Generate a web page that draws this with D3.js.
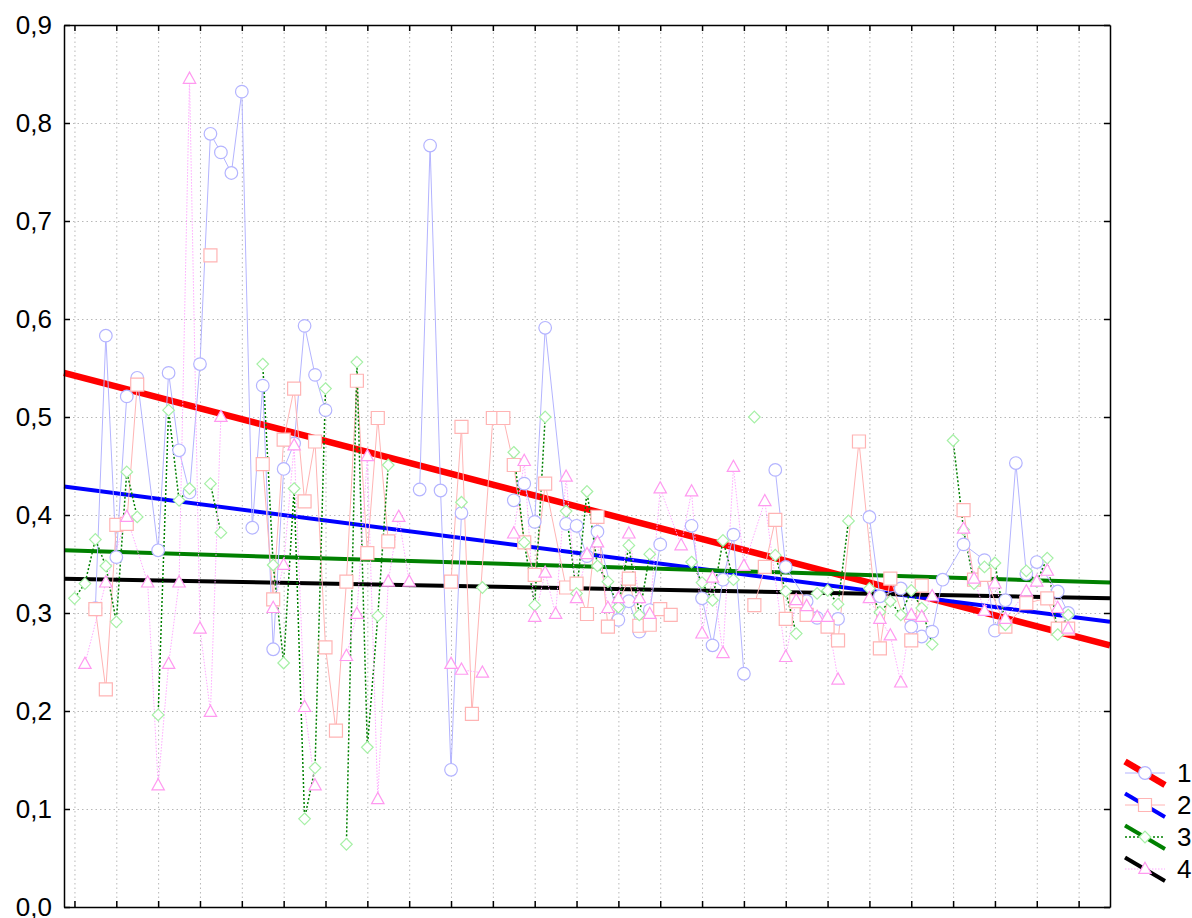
<!DOCTYPE html>
<html lang="en">
<head>
<meta charset="UTF-8" />
<title>Series 1-4 with linear fits</title>
<script src="https://cdnjs.cloudflare.com/ajax/libs/d3/7.8.2/d3.min.js"></script>
<style>
  body { margin: 0; background: #fff; }
  svg { display: block; font-family: "Liberation Sans", Arial, sans-serif; }
  .grid line { stroke: #b8b8b8; stroke-width: 1; stroke-dasharray: 1.5,3; }
  .grid .domain { display: none; }
  .axis .domain, .axis line { stroke: #000; stroke-width: 1.5; }
  .axis text { font-size: 26px; fill: #000; }
</style>
</head>
<body>
<svg id="chart" width="1192" height="918"></svg>
<script>
// ---------- data (case numbers 1..96, null = missing) ----------
const caseNo = d3.range(1, 97);

const series1 = [
  null, null, 0.305, 0.583, 0.357, 0.521, 0.540, null, 0.364, 0.545,
  0.466, 0.423, 0.554, 0.789, 0.770, 0.749, 0.832, 0.387, 0.532, 0.263,
  0.447, 0.473, 0.593, 0.543, 0.507, null, null, null, null, null,
  null, null, null, 0.426, 0.777, 0.425, 0.140, 0.402, null, null,
  null, null, 0.415, 0.432, 0.393, 0.591, null, 0.391, 0.389, 0.358,
  0.383, null, 0.293, 0.312, 0.281, 0.303, 0.370, null, null, 0.389,
  0.315, 0.267, 0.334, 0.380, 0.238, null, null, 0.446, 0.347, null,
  0.312, 0.295, null, 0.294, null, null, 0.398, 0.317, null, 0.325,
  0.286, 0.276, 0.281, 0.334, null, 0.370, null, 0.354, 0.282, 0.313,
  0.453, 0.340, 0.352, null, 0.322, 0.300
];

const series2 = [
  null, null, 0.304, 0.222, 0.390, 0.391, 0.533, null, null, null,
  null, null, null, 0.665, null, null, null, null, 0.452, 0.314,
  0.477, 0.529, 0.414, 0.475, 0.265, 0.180, 0.332, 0.537, 0.361, 0.499,
  0.373, null, null, null, null, null, 0.332, 0.490, 0.197, null,
  0.499, 0.499, 0.451, 0.372, 0.339, 0.432, null, 0.326, 0.330, 0.299,
  0.398, 0.286, null, 0.335, 0.287, 0.288, 0.304, 0.298, null, null,
  null, null, null, null, null, 0.308, 0.347, 0.395, 0.294, 0.312,
  0.298, null, 0.286, 0.272, null, 0.475, null, 0.264, 0.335, null,
  0.272, 0.328, null, null, null, 0.405, 0.334, 0.339, null, 0.286,
  null, 0.310, null, 0.315, 0.284, 0.284
];

const series3 = [
  0.315, 0.330, 0.375, 0.348, 0.291, 0.444, 0.398, null, 0.196, 0.507,
  0.415, 0.427, null, 0.432, 0.382, null, null, null, 0.554, 0.349,
  0.249, 0.427, 0.090, 0.142, 0.529, null, 0.064, 0.556, 0.163, 0.297,
  0.451, null, null, null, null, null, null, 0.413, null, 0.326,
  null, null, 0.464, 0.372, 0.308, 0.500, null, 0.404, 0.320, 0.424,
  0.348, 0.332, 0.306, 0.369, 0.298, 0.360, null, null, null, 0.352,
  0.331, 0.313, 0.374, 0.334, null, 0.500, null, 0.359, 0.322, 0.279,
  null, 0.320, 0.323, 0.309, 0.394, null, 0.325, 0.301, 0.312, 0.298,
  0.323, 0.305, 0.268, null, 0.476, 0.385, 0.330, 0.347, 0.351, 0.288,
  null, 0.343, 0.332, 0.356, 0.278, 0.298
];

const series4 = [
  null, 0.248, null, 0.331, null, 0.398, null, 0.331, 0.124, 0.248,
  0.331, 0.845, 0.284, 0.199, 0.500, null, null, null, null, 0.305,
  0.349, 0.471, 0.204, 0.124, null, null, 0.256, 0.299, 0.460, 0.110,
  0.332, 0.398, 0.332, null, null, null, 0.248, 0.242, null, 0.239,
  null, null, 0.381, 0.455, 0.296, 0.341, 0.299, 0.439, 0.315, 0.360,
  0.372, 0.305, 0.315, 0.381, 0.315, 0.299, 0.427, null, 0.369, 0.424,
  0.279, 0.336, 0.259, 0.449, 0.348, null, 0.414, null, 0.255, 0.313,
  0.307, 0.296, 0.296, 0.232, null, null, 0.315, 0.294, 0.277, 0.229,
  0.298, 0.296, 0.317, null, null, 0.386, 0.335, 0.302, 0.330, 0.294,
  null, 0.322, 0.332, 0.343, 0.305, 0.284
];

// linear fits, value at x = 0 and at x = 100
const fitAt0   = [0.545, 0.429, 0.364, 0.335];
const fitAt100 = [0.267, 0.291, 0.331, 0.315];

const legendLabels = ["1", "2", "3", "4"];
const yTicks = [0, 0.1, 0.2, 0.3, 0.4, 0.5, 0.6, 0.7, 0.8, 0.9];
const xTicks = d3.range(1, 98, 4);

// ---------- setup ----------
const svg = d3.select("#chart");
const mLeft = 64, mRight = 1110, mTop = 25, mBottom = 907;

const x = d3.scaleLinear().domain([0, 100]).range([mLeft, mRight]);
const y = d3.scaleLinear().domain([0, 0.9]).range([mBottom, mTop]);

// grid
svg.append("g").attr("class", "grid")
  .attr("transform", `translate(0,${mBottom})`)
  .call(d3.axisBottom(x).tickValues(xTicks).tickSize(-(mBottom - mTop)).tickFormat(""));
svg.append("g").attr("class", "grid")
  .attr("transform", `translate(${mLeft},0)`)
  .call(d3.axisLeft(y).tickValues(yTicks.slice(1, -1)).tickSize(-(mRight - mLeft)).tickFormat(""));

// ---------- styles per series ----------
// maxGap: largest step in case number that is still joined by the line
const styles = [
  { line: "#b4b4ff", dash: null, lw: 1, marker: "circle", stroke: "#b4b4ff", fit: "#ff0000", fw: 6.5, maxGap: 2 },
  { line: "#ffb4b4", dash: null, lw: 1, marker: "square", stroke: "#ffb4b4", fit: "#0000ff", fw: 4, maxGap: 2 },
  { line: "#008000", dash: "2,2", lw: 1.5, marker: "diamond", stroke: "#a6f0a6", fit: "#008000", fw: 4, maxGap: 1 },
  { line: "#ffaaff", dash: "1.5,1.5", lw: 1, marker: "triangle", stroke: "#ff99f0", fit: "#000000", fw: 4, maxGap: 2 }
];
const allSeries = [series1, series2, series3, series4];

const markerPath = {
  circle: d3.symbol().type(d3.symbolCircle).size(Math.PI * 6.3 * 6.3)(),
  square: d3.symbol().type(d3.symbolSquare).size(13 * 13)(),
  diamond: "M0,-5.8L5.8,0L0,5.8L-5.8,0Z",
  triangle: "M0,-6.8L6.2,4.4L-6.2,4.4Z"
};

// ---------- fit lines ----------
const fitG = svg.append("g");
fitAt0.forEach((v, i) => {
  fitG.append("line")
    .attr("x1", x(0)).attr("y1", y(v))
    .attr("x2", x(100)).attr("y2", y(fitAt100[i]))
    .attr("stroke", styles[i].fit)
    .attr("stroke-width", styles[i].fw);
});

// ---------- series lines ----------
const line = d3.line().x(d => x(d.x)).y(d => y(d.v));

function segments(values, maxGap) {
  const pts = values.map((v, i) => ({ x: caseNo[i], v })).filter(d => d.v !== null);
  const segs = [];
  let cur = [];
  pts.forEach(p => {
    if (cur.length && p.x - cur[cur.length - 1].x > maxGap) { segs.push(cur); cur = []; }
    cur.push(p);
  });
  if (cur.length) segs.push(cur);
  return segs;
}

allSeries.forEach((vals, i) => {
  const st = styles[i];
  svg.append("g").selectAll("path")
    .data(segments(vals, st.maxGap).filter(s => s.length > 1))
    .join("path")
    .attr("d", line)
    .attr("fill", "none")
    .attr("stroke", st.line)
    .attr("stroke-width", st.lw)
    .attr("stroke-dasharray", st.dash);
});

// ---------- markers ----------
allSeries.forEach((vals, i) => {
  const st = styles[i];
  const pts = vals.map((v, k) => ({ x: caseNo[k], v })).filter(d => d.v !== null);
  svg.append("g").selectAll("path")
    .data(pts)
    .join("path")
    .attr("d", markerPath[st.marker])
    .attr("transform", d => `translate(${x(d.x)},${y(d.v)})`)
    .attr("fill", "#fff")
    .attr("stroke", st.stroke)
    .attr("stroke-width", 1.2);
});

// ---------- axes / frame ----------
const fmt = d => d3.format(".1f")(d).replace(".", ",");
svg.append("g").attr("class", "axis")
  .attr("transform", `translate(${mLeft},0)`)
  .call(d3.axisLeft(y).tickValues(yTicks).tickSize(-6).tickSizeOuter(0).tickPadding(12).tickFormat(fmt))
  .call(g => g.selectAll("text").attr("dy", "0.34em"));
svg.append("g").attr("class", "axis")
  .attr("transform", `translate(${mRight},0)`)
  .call(d3.axisRight(y).tickValues(yTicks).tickSize(-6).tickSizeOuter(0).tickFormat(""));
svg.append("g").attr("class", "axis")
  .attr("transform", `translate(0,${mBottom})`)
  .call(d3.axisBottom(x).tickValues(xTicks).tickSize(-6).tickSizeOuter(0).tickFormat(""));
svg.append("g").attr("class", "axis")
  .attr("transform", `translate(0,${mTop})`)
  .call(d3.axisTop(x).tickValues(xTicks).tickSize(-6).tickSizeOuter(0).tickFormat(""));

// ---------- legend ----------
const legendY = [773, 805, 837, 869];
const lg = svg.append("g");
legendLabels.forEach((lab, i) => {
  const st = styles[i];
  const cy = legendY[i];
  lg.append("line")
    .attr("x1", 1125).attr("x2", 1165).attr("y1", cy).attr("y2", cy)
    .attr("stroke", st.line).attr("stroke-width", st.lw)
    .attr("stroke-dasharray", st.dash);
  lg.append("line")
    .attr("x1", 1125).attr("y1", cy - 11.5).attr("x2", 1165).attr("y2", cy + 12)
    .attr("stroke", st.fit).attr("stroke-width", st.fw);
  lg.append("path")
    .attr("d", markerPath[st.marker])
    .attr("transform", `translate(1145,${cy})`)
    .attr("fill", "#fff").attr("stroke", st.stroke).attr("stroke-width", 1.2);
  lg.append("text")
    .attr("x", 1177).attr("y", cy).attr("dy", "0.36em")
    .attr("font-size", 26).text(lab);
});
</script>
</body>
</html>
